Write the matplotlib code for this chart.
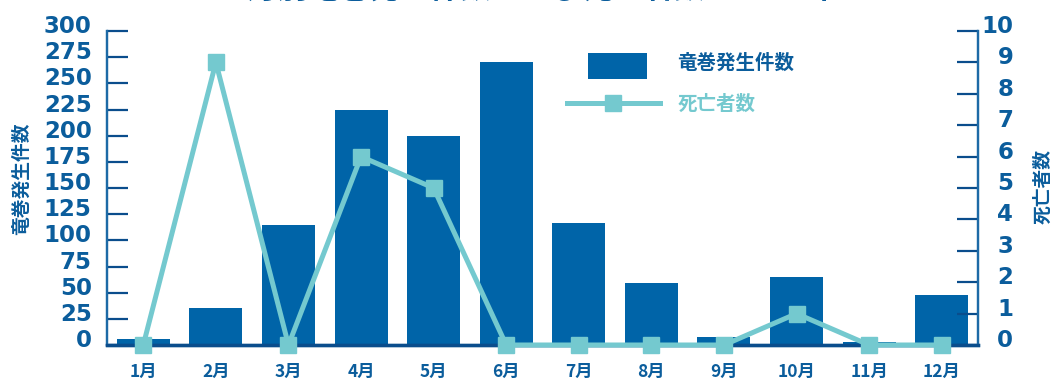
import matplotlib
matplotlib.use("Agg")
import matplotlib.pyplot as plt
from matplotlib.lines import Line2D
from matplotlib.patches import Patch, Rectangle
from matplotlib.legend_handler import HandlerPatch
from matplotlib.transforms import ScaledTranslation

plt.rcParams['font.family'] = ['Noto Sans CJK JP', 'DejaVu Sans']

months = ['1月', '2月', '3月', '4月', '5月', '6月', '7月', '8月', '9月', '10月', '11月', '12月']
tornadoes = [6, 35, 115, 225, 200, 270, 117, 59, 8, 65, 3, 48]
deaths = [0, 9, 0, 6, 5, 0, 0, 0, 0, 1, 0, 0]
left_ticks = list(range(0, 301, 25))
right_ticks = list(range(0, 11))

BAR = '#0064a8'
TEAL = '#74c9cf'
TEXT = '#0b5d9c'
SPINE = '#1d6aa6'
BASE = '#0a4d8c'

W, H = 1053, 381
fig = plt.figure(figsize=(W / 100, H / 100), dpi=100)
ax = fig.add_axes([107 / W, 1 - 345 / H, (978 - 107) / W, (345 - 31) / H])
ax2 = ax.twinx()

x = list(range(len(months)))
ax.bar(x, tornadoes, width=0.73, color=BAR, zorder=2)
ax.set_xlim(-0.5, len(months) - 0.5)
ax.set_ylim(0, 300)
ax.set_yticks(left_ticks)
ax.set_xticks(x)
ax.set_xticklabels(months, fontsize=12.5, fontweight='bold', color=TEXT)
ax.tick_params(axis='x', length=0, pad=13)
ax.tick_params(axis='y', direction='in', length=15, width=1.6, color=BASE,
               pad=11, labelsize=16.5, labelcolor=TEXT)
for lab in ax.get_yticklabels():
    lab.set_fontfamily('DejaVu Sans')
    lab.set_fontweight('bold')
    lab.set_transform(lab.get_transform() + ScaledTranslation(0, 5 / 72, fig.dpi_scale_trans))

ax2.plot(x, deaths, color=TEAL, lw=3.6, marker='s', markersize=12,
         markerfacecolor=TEAL, markeredgecolor=TEAL, clip_on=False, zorder=5)
ax2.set_ylim(0, 10)
ax2.set_yticks(right_ticks)
ax2.tick_params(axis='y', direction='in', length=15, width=1.6, color=BASE,
                pad=6, labelsize=16.5, labelcolor=TEXT)
for lab in ax2.get_yticklabels():
    lab.set_fontfamily('DejaVu Sans')
    lab.set_fontweight('bold')
    lab.set_horizontalalignment('right')
    lab.set_transform(lab.get_transform() + ScaledTranslation(27 / 100, 5 / 72, fig.dpi_scale_trans))

for a in (ax, ax2):
    a.spines['top'].set_visible(False)
    a.spines['left'].set_color(SPINE)
    a.spines['right'].set_color(SPINE)
    a.spines['left'].set_linewidth(1.6)
    a.spines['right'].set_linewidth(1.6)
    a.spines['bottom'].set_color(BASE)
    a.spines['bottom'].set_linewidth(2.4)
    a.patch.set_visible(False)

ax.set_ylabel('竜巻発生件数', fontsize=13.5, fontweight='bold', color=TEXT)
ax.yaxis.set_label_coords(-0.087, 0.53)
ax2.set_ylabel('死亡者数', fontsize=13.5, fontweight='bold', color=TEXT, rotation=90)
ax2.yaxis.set_label_coords(1.064, 0.505)


def narrow_box(legend, orig_handle, xdescent, ydescent, width, height, fontsize):
    w = width * 0.63
    return Rectangle((-xdescent + (width - w) / 2 + 3, -ydescent - 6), w, height + 6)


handles = [Patch(facecolor=BAR, edgecolor='none'),
           Line2D([], [], color=TEAL, lw=3.6, marker='s', markersize=12)]
leg = ax2.legend(handles, ['竜巻発生件数', '死亡者数'], loc='upper left',
                 bbox_to_anchor=(442 / 871, 0.985), frameon=False,
                 prop={'size': 14, 'weight': 'bold'}, handlelength=4.8, handleheight=1.0,
                 handletextpad=0.9, labelspacing=1.15, labelcolor=[TEXT, TEAL],
                 handler_map={Patch: HandlerPatch(patch_func=narrow_box)})

fig.text(0.515, 1 - 5 / H, '月別竜巻発生件数および死亡者数 – 2009年', ha='center', va='bottom',
         fontsize=22, fontweight='bold', color=TEXT)

fig.savefig('out.png', dpi=100)
